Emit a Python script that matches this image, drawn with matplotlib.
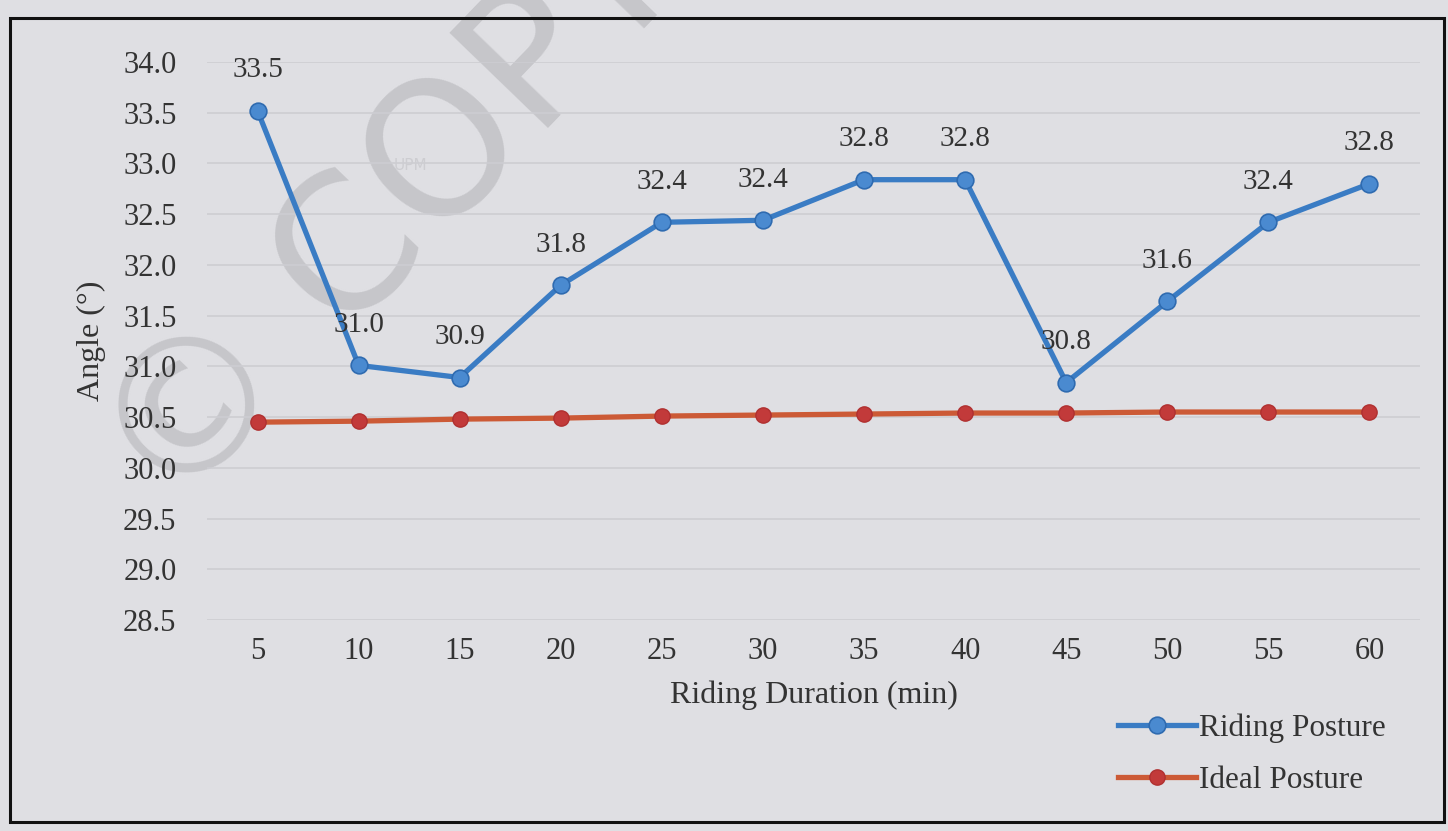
import matplotlib
matplotlib.use("Agg")
import matplotlib.pyplot as plt
from matplotlib.patches import Rectangle

# tempi di guida (min) e angoli misurati
durata = ["5", "10", "15", "20", "25", "30", "35", "40", "45", "50", "55", "60"]
riding_posture = [33.52, 31.01, 30.89, 31.80, 32.42, 32.44, 32.84, 32.84, 30.84, 31.64, 32.42, 32.80]
ideal_posture = [30.45, 30.46, 30.48, 30.49, 30.51, 30.52, 30.53, 30.54, 30.54, 30.55, 30.55, 30.55]
y_ticks = [28.5, 29.0, 29.5, 30.0, 30.5, 31.0, 31.5, 32.0, 32.5, 33.0, 33.5, 34.0]

plt.rcParams["font.family"] = ["Liberation Serif", "DejaVu Serif"]
sfondo = "#dfdfe3"

W, H = 1448, 831
fig = plt.figure(figsize=(W / 100, H / 100), dpi=100, facecolor=sfondo)

# filigrana grigia dietro al grafico
fig.text(0.118, 0.375, "© COPYRIGHT UPM", fontsize=135, color="#c6c6ca",
         family="DejaVu Sans", rotation=46, rotation_mode="anchor",
         ha="left", va="baseline", zorder=0)
fig.text(410 / W, 1 - 166 / H, "UPM", fontsize=11, color="#cdcdd1",
         family="DejaVu Sans", ha="center", va="center", zorder=0)

# cornice nera
fig.patches.append(Rectangle((10 / W, 1 - 822 / H), (1444 - 10) / W, (822 - 18) / H,
                             transform=fig.transFigure, fill=False,
                             edgecolor="#111111", linewidth=2.2, zorder=5))

ax = fig.add_axes([207 / W, 1 - 620 / H, (1420 - 207) / W, (620 - 62) / H])
ax.set_zorder(1)
ax.set_facecolor("none")
x = list(range(len(durata)))

ax.plot(x, riding_posture, color="#3a7cc4", linewidth=3.8, marker="o",
        markersize=12, markerfacecolor="#4a8ad0", markeredgecolor="#2f6bb0",
        markeredgewidth=1.2, label="Riding Posture", zorder=3)
ax.plot(x, ideal_posture, color="#cc5a36", linewidth=3.8, marker="o",
        markersize=11, markerfacecolor="#c23a3a", markeredgecolor="#b03030",
        markeredgewidth=1.0, label="Ideal Posture", zorder=3)

# etichette dei valori sopra i punti blu
for xi, v in zip(x, riding_posture):
    ax.annotate(f"{v:.1f}", (xi, v), xytext=(0, 29), textcoords="offset points",
                ha="center", va="center", fontsize=21, color="#333333")

ax.set_xlim(-0.5, len(durata) - 0.5)
ax.set_ylim(28.5, 34.0)
ax.set_xticks(x)
ax.set_xticklabels(durata)
ax.set_yticks(y_ticks)
ax.set_yticklabels([f"{t:.1f}" for t in y_ticks])
ax.tick_params(axis="both", length=0, labelsize=22, labelcolor="#333333")
ax.tick_params(axis="y", pad=22)
ax.tick_params(axis="x", pad=12)
ax.grid(axis="y", color="#cdcdd2", linewidth=1.2)
ax.set_axisbelow(True)
for s in ax.spines.values():
    s.set_visible(False)

ax.set_xlabel("Riding Duration (min)", fontsize=23, color="#333333", labelpad=11)
ax.set_ylabel("Angle (°)", fontsize=23, color="#333333", labelpad=12)

fig.legend(loc="upper left", bbox_to_anchor=(1090 / W, 1 - 685 / H),
           frameon=False, fontsize=22.5, handlelength=2.5, handletextpad=0.1,
           labelspacing=0.75, labelcolor="#333333")

fig.savefig("out.png", dpi=100, facecolor=sfondo)
